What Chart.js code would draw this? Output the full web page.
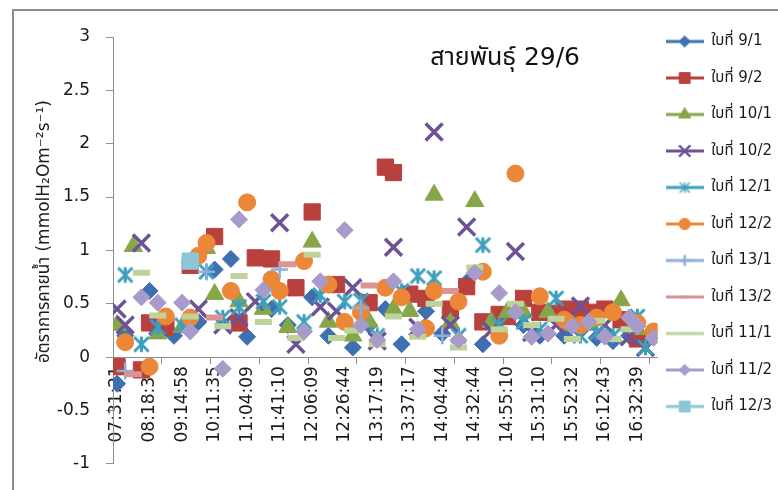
<!DOCTYPE html>
<html>
<head>
<meta charset="utf-8">
<title>สายพันธุ์ 29/6</title>
<script src="https://cdn.jsdelivr.net/npm/chart.js@4.4.1/dist/chart.umd.min.js"></script>
<style>
  html, body { margin: 0; padding: 0; background: #fff; }
  #wrap { position: relative; width: 778px; height: 490px; overflow: hidden; }
  #frame { position: absolute; left: 12px; top: 9px; width: 800px; height: 520px; border: 2px solid #8c8c8c; }
  #chart { position: absolute; left: 0; top: 0; }
</style>
</head>
<body>
<div id="wrap">
  <div id="frame"></div>
  <canvas id="chart" width="778" height="490"></canvas>
</div>
<script>
(function () {
  'use strict';

  const FONT = "'DejaVu Sans', 'Noto Sans Thai', Tahoma, sans-serif";
  const TEXT = '#1a1a1a';
  const AXIS = '#8f8f8f';

  // only every 4th measuring time is printed under the axis
  const timeLabels = ['07:31:21', '08:18:30', '09:14:58', '10:11:35', '11:04:09', '11:41:10',
    '12:06:09', '12:26:44', '13:17:19', '13:37:17', '14:04:44', '14:32:44', '14:55:10',
    '15:31:10', '15:52:32', '16:12:43', '16:32:39'];
  const nTimes = 67;
  const labelEvery = 4;
  const tickEvery = 6;

  const chartTitle = 'สายพันธุ์ 29/6';
  // leading no-break spaces nudge the centred title upward, as Excel placed it
  const yTitle = '\u00A0'.repeat(7) + 'อัตราการคายน้ำ (mmolH₂Om⁻²s⁻¹)';

  // [time index, transpiration rate] - only the times each leaf was measured
  const leaf9_1 = [[0, -0.25], [1, 0.2], [4, 0.62], [7, 0.2], [10, 0.33], [12, 0.82], [14, 0.92], [16, 0.19],
    [19, 0.45], [21, 0.3], [24, 0.56], [26, 0.2], [29, 0.09], [31, 0.3], [33, 0.45], [35, 0.12], [38, 0.43],
    [40, 0.22], [43, 0.7], [45, 0.12], [47, 0.25], [50, 0.3], [52, 0.2], [55, 0.2], [57, 0.25], [59, 0.18],
    [61, 0.15], [63, 0.2], [65, 0.14]];
  const leaf9_2 = [[0, -0.09], [3, -0.12], [4, 0.32], [6, 0.28], [9, 0.86], [12, 1.13], [15, 0.32], [17, 0.93],
    [19, 0.92], [22, 0.65], [24, 1.36], [27, 0.68], [31, 0.51], [33, 1.78], [34, 1.73], [36, 0.59], [38, 0.55],
    [41, 0.45], [43, 0.66], [45, 0.33], [47, 0.4], [48, 0.38], [50, 0.55], [52, 0.42], [54, 0.41], [55, 0.45],
    [57, 0.45], [58, 0.42], [60, 0.45], [62, 0.35], [64, 0.17]];
  const leaf10_1 = [[0, 0.3], [2, 1.04], [5, 0.22], [8, 0.28], [11, 1.02], [12, 0.59], [15, 0.52], [18, 0.45],
    [21, 0.28], [24, 1.08], [26, 0.33], [29, 0.2], [31, 0.33], [34, 0.45], [36, 0.43], [39, 1.52], [41, 0.32],
    [44, 1.46], [46, 0.33], [48, 0.42], [50, 0.42], [53, 0.42], [56, 0.3], [58, 0.3], [62, 0.53], [64, 0.26]];
  const leaf10_2 = [[0, 0.45], [1, 0.3], [3, 1.07], [5, 0.29], [10, 0.45], [13, 0.3], [15, 0.37], [17, 0.52],
    [20, 1.26], [22, 0.12], [25, 0.47], [27, 0.43], [29, 0.65], [32, 0.15], [34, 1.03], [37, 0.28], [39, 2.11],
    [41, 0.3], [43, 1.22], [46, 0.25], [49, 0.99], [51, 0.23], [54, 0.3], [57, 0.48], [60, 0.3], [63, 0.19],
    [65, 0.09]];
  const leaf12_1 = [[1, 0.77], [3, 0.12], [5, 0.28], [8, 0.3], [11, 0.8], [13, 0.37], [15, 0.47], [18, 0.52],
    [20, 0.47], [23, 0.33], [25, 0.58], [28, 0.52], [30, 0.53], [32, 0.2], [35, 0.62], [37, 0.76], [39, 0.74],
    [42, 0.2], [45, 1.05], [47, 0.3], [50, 0.33], [52, 0.26], [54, 0.55], [57, 0.2], [59, 0.23], [61, 0.2],
    [64, 0.38], [65, 0.09]];
  const leaf12_2 = [[1, 0.14], [4, -0.09], [6, 0.38], [9, 0.37], [10, 0.95], [11, 1.07], [14, 0.62], [16, 1.45],
    [19, 0.73], [20, 0.62], [23, 0.9], [26, 0.68], [28, 0.33], [30, 0.42], [33, 0.65], [35, 0.56], [38, 0.27],
    [39, 0.62], [42, 0.52], [45, 0.8], [47, 0.2], [49, 1.72], [52, 0.57], [55, 0.35], [57, 0.3], [59, 0.37],
    [61, 0.42], [64, 0.32], [66, 0.24]];
  const leaf13_1 = [[1, -0.13], [11, 0.8], [20, 0.82], [30, 0.46], [40, 0.2]];
  const leaf13_2 = [[2, -0.16], [12, 0.37], [21, 0.87], [31, 0.67], [41, 0.62]];
  const leaf11_1 = [[3, 0.79], [5, 0.39], [9, 0.38], [13, 0.29], [15, 0.76], [18, 0.33], [22, 0.18], [24, 0.96],
    [27, 0.18], [29, 0.25], [32, 0.12], [34, 0.38], [37, 0.19], [39, 0.5], [42, 0.09], [44, 0.84], [47, 0.26],
    [49, 0.5], [51, 0.3], [54, 0.36], [56, 0.17], [59, 0.34], [61, 0.17], [63, 0.26]];
  const leaf11_2 = [[3, 0.56], [5, 0.51], [8, 0.51], [9, 0.24], [13, -0.11], [15, 1.29], [18, 0.63], [23, 0.24],
    [25, 0.71], [28, 1.19], [30, 0.3], [32, 0.16], [34, 0.71], [37, 0.26], [42, 0.16], [44, 0.79], [47, 0.6],
    [49, 0.42], [51, 0.19], [53, 0.22], [56, 0.29], [58, 0.33], [60, 0.19], [63, 0.37], [64, 0.29], [66, 0.18]];
  const leaf12_3 = [[9, 0.9]];

  // marker looks, Excel style
  const series = [
    { name: 'ใบที่ 9/1', points: leaf9_1, color: '#3E6FB0', style: 'rectRot', radius: 8.5, border: 1 },
    { name: 'ใบที่ 9/2', points: leaf9_2, color: '#B8413E', style: 'rect', radius: 11.5, border: 1 },
    { name: 'ใบที่ 10/1', points: leaf10_1, color: '#87A64A', style: 'triangle', radius: 10.5, border: 1 },
    { name: 'ใบที่ 10/2', points: leaf10_2, color: '#6E5296', style: 'crossRot', radius: 12, border: 3.5 },
    { name: 'ใบที่ 12/1', points: leaf12_1, color: '#3C9FBB', style: 'star', radius: 9, border: 3 },
    { name: 'ใบที่ 12/2', points: leaf12_2, color: '#EC8737', style: 'circle', radius: 8.5, border: 1 },
    { name: 'ใบที่ 13/1', points: leaf13_1, color: '#8FAEDA', style: 'cross', radius: 8.5, border: 2.5 },
    { name: 'ใบที่ 13/2', points: leaf13_2, color: '#D99493', style: 'line', radius: 8.5, border: 6 },
    { name: 'ใบที่ 11/1', points: leaf11_1, color: '#BDD39A', style: 'line', radius: 8.5, border: 6 },
    { name: 'ใบที่ 11/2', points: leaf11_2, color: '#A99BC9', style: 'rectRot', radius: 8.5, border: 1 },
    { name: 'ใบที่ 12/3', points: leaf12_3, color: '#8EC6D9', style: 'rect', radius: 11.5, border: 1 }
  ];

  // Excel "star" marker: an X with a vertical bar through it
  function starMarker(color, r, lw) {
    const size = Math.ceil(r * 2 + lw);
    const c = document.createElement('canvas');
    c.width = c.height = size;
    const g = c.getContext('2d');
    const mid = size / 2;
    const d = r * 0.8;
    g.strokeStyle = color;
    g.lineWidth = lw;
    g.beginPath();
    g.moveTo(mid - d, mid - d); g.lineTo(mid + d, mid + d);
    g.moveTo(mid + d, mid - d); g.lineTo(mid - d, mid + d);
    g.moveTo(mid, mid - r * 0.85); g.lineTo(mid, mid + r * 0.85);
    g.stroke();
    return c;
  }

  // legend swatch: a line with the marker in its middle
  function legendIcon(s) {
    const w = 38, h = 22;
    const c = document.createElement('canvas');
    c.width = w; c.height = h;
    const g = c.getContext('2d');
    g.strokeStyle = s.color;
    g.lineWidth = 3;
    g.beginPath(); g.moveTo(0, h / 2); g.lineTo(w, h / 2); g.stroke();
    if (s.style === 'star') {
      const m = starMarker(s.color, s.radius * 0.7, 1.5);
      g.drawImage(m, (w - m.width) / 2, (h - m.height) / 2);
    } else {
      g.fillStyle = s.color;
      g.lineWidth = Math.min(s.border, 2.5);
      Chart.helpers.drawPoint(g, { pointStyle: s.style, radius: s.radius * 0.66, borderWidth: s.border, rotation: 0 }, w / 2, h / 2);
    }
    return c;
  }

  const legendIcons = series.map(legendIcon);

  // tick values: label ticks on every 4th time, tick marks every 6 times
  const tickValues = [];
  for (let i = 0; i < nTimes; i += labelEvery) tickValues.push(i);
  for (let b = -0.5; b < nTimes; b += tickEvery) tickValues.push(b);
  tickValues.sort((a, b) => a - b);

  function isMark(v) { return !Number.isInteger(v); }

  const datasets = series.map((s, i) => ({
    label: s.name,
    data: s.points.map(p => ({ x: p[0], y: p[1] })),
    showLine: false,
    pointStyle: s.style === 'star' ? starMarker(s.color, s.radius, s.border) : s.style,
    pointRadius: s.radius,
    pointHoverRadius: s.radius,
    pointBorderWidth: s.border,
    pointBackgroundColor: s.color,
    pointBorderColor: s.color,
    order: series.length - i   // later leaves sit on top, as in Excel
  }));

  const plotTitle = {
    id: 'plotTitle',
    afterDraw(chart) {
      const { ctx, chartArea } = chart;
      ctx.save();
      ctx.font = '25px ' + FONT;
      ctx.fillStyle = '#111';
      ctx.textAlign = 'center';
      ctx.textBaseline = 'middle';
      ctx.fillText(chartTitle, chartArea.left + chartArea.width * 0.72, chartArea.top + 21);
      ctx.restore();
    }
  };

  new Chart(document.getElementById('chart'), {
    type: 'scatter',
    data: { datasets },
    plugins: [plotTitle],
    options: {
      responsive: false,
      animation: false,
      layout: { padding: { left: 10, top: 26, right: -4, bottom: 25 } },
      plugins: {
        tooltip: { enabled: false },
        // empty spacer box above the plot only; the legend keeps the full height
        title: { display: true, text: ' ', fullSize: false, font: { size: 1, lineHeight: 1 }, padding: { top: 5, bottom: 5 } },
        legend: {
          position: 'right',
          align: 'start',
          labels: {
            usePointStyle: true,
            pointStyleWidth: 38,
            padding: 8,
            color: TEXT,
            font: { family: FONT, size: 15, lineHeight: 1.9 },
            generateLabels: chart => chart.data.datasets.map((ds, i) => ({
              text: [ds.label],
              pointStyle: legendIcons[i],
              fillStyle: 'rgba(0,0,0,0)',
              strokeStyle: 'rgba(0,0,0,0)',
              lineWidth: 0,
              hidden: false,
              fontColor: TEXT,
              datasetIndex: i
            }))
          }
        }
      },
      scales: {
        x: {
          type: 'linear',
          position: { y: 0 },
          min: -0.5,
          max: nTimes - 0.5,
          afterBuildTicks: scale => { scale.ticks = tickValues.map(v => ({ value: v })); },
          ticks: {
            autoSkip: false,
            minRotation: 90,
            maxRotation: 90,
            padding: 3,
            color: TEXT,
            font: { family: FONT, size: 17 },
            callback: v => (Number.isInteger(v) && v % labelEvery === 0) ? timeLabels[v / labelEvery] : ''
          },
          grid: {
            drawOnChartArea: false,
            tickLength: 6,
            color: ctx => (ctx.tick && isMark(ctx.tick.value)) ? AXIS : 'rgba(0,0,0,0)',
            tickColor: ctx => (ctx.tick && isMark(ctx.tick.value)) ? AXIS : 'rgba(0,0,0,0)'
          },
          border: { color: AXIS, width: 1 }
        },
        y: {
          min: -1,
          max: 3,
          afterFit: scale => { scale.width = 103; },
          ticks: {
            stepSize: 0.5,
            padding: 16,
            color: TEXT,
            font: { family: FONT, size: 17 },
            callback: v => String(v)
          },
          grid: { drawOnChartArea: false, tickLength: 7, color: AXIS },
          border: { color: AXIS, width: 1 },
          title: {
            display: true,
            text: yTitle,
            color: TEXT,
            font: { family: FONT, size: 17 },
            padding: { top: 24, bottom: 0 }
          }
        }
      }
    }
  });
})();
</script>
</body>
</html>
